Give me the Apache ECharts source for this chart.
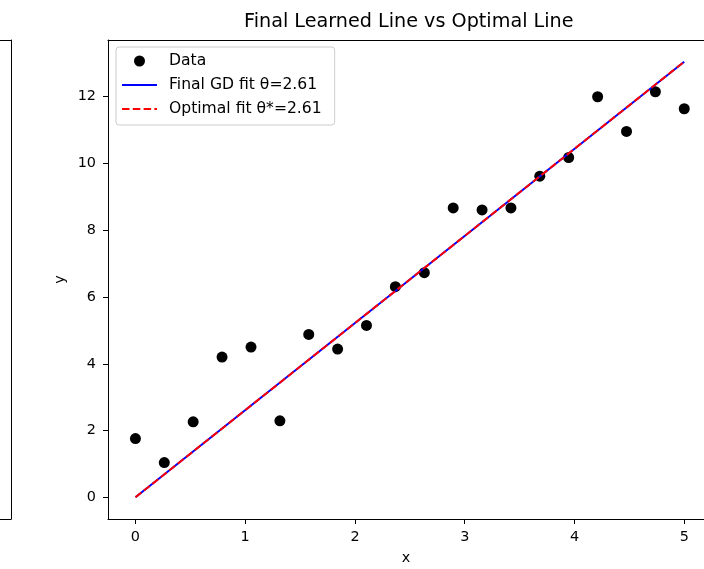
<!DOCTYPE html>
<html>
<head>
<meta charset="utf-8">
<script src="https://cdn.jsdelivr.net/npm/echarts@6/dist/echarts.min.js"></script>
<style>
  html, body { margin: 0; padding: 0; background: #ffffff; }
  #chart { width: 704px; height: 569px; }
</style>
</head>
<body>
<div id="chart"></div>
<script>
// data points
const dataX = [0, 0.263, 0.526, 0.789, 1.053, 1.316, 1.579, 1.842, 2.105, 2.368,
  2.632, 2.895, 3.158, 3.421, 3.684, 3.947, 4.211, 4.474, 4.737, 5];
const dataY = [1.76, 1.04, 2.26, 4.2, 4.5, 2.29, 4.88, 4.44, 5.15, 6.31,
  6.73, 8.67, 8.61, 8.67, 9.62, 10.18, 12.0, 10.96, 12.15, 11.64];

// fitted lines (theta = 2.61)
const fitX = [0, 5];
const gdFitY = [0, 13.05];
const optFitY = [0, 13.05];

const xTicks = [0, 1, 2, 3, 4, 5];
const yTicks = [0, 2, 4, 6, 8, 10, 12];

const seriesNames = ["Data", "Final GD fit θ=2.61", "Optimal fit θ*=2.61"];

const font = "DejaVu Sans";
const zip = (xs, ys) => xs.map((x, i) => [x, ys[i]]);
const spine = { show: true, onZero: false, lineStyle: { color: "#000", width: 1 } };

const chart = echarts.init(document.getElementById("chart"), null, { renderer: "canvas" });

chart.setOption({
  animation: false,
  textStyle: { fontFamily: font, color: "#000" },
  title: {
    text: "Final Learned Line vs Optimal Line",
    left: 239,
    top: 8,
    textStyle: { fontFamily: font, fontSize: 19.2, fontWeight: "normal", color: "#000" }
  },
  legend: {
    orient: "vertical",
    left: 116,
    top: 47,
    padding: [6, 13, 8, 5],
    itemWidth: 35,
    itemHeight: 11,
    itemGap: 8,
    backgroundColor: "rgba(255,255,255,0.8)",
    borderColor: "#cccccc",
    borderWidth: 1,
    borderRadius: 3,
    textStyle: { fontFamily: font, fontSize: 15.6, color: "#000", padding: [0, 0, 0, 7] },
    data: [
      { name: seriesNames[0], icon: "circle", itemStyle: { color: "#000" } },
      { name: seriesNames[1], itemStyle: { opacity: 0 } },
      { name: seriesNames[2], itemStyle: { opacity: 0 } }
    ]
  },
  grid: [
    { left: 108, top: 40, right: 0, height: 479, containLabel: false, outerBoundsMode: "none" },
    // edge of the neighbouring subplot, cut by the figure crop
    { left: 0, top: 40, width: 11, height: 479, containLabel: false, outerBoundsMode: "none" }
  ],
  xAxis: [
    {
      type: "value",
      gridIndex: 0,
      min: -0.25,
      max: 5.18,
      name: "x",
      nameLocation: "middle",
      nameGap: 32,
      nameTextStyle: { fontFamily: font, fontSize: 14.4, color: "#000" },
      axisLine: spine,
      axisTick: { show: true, inside: false, length: 5, customValues: xTicks, lineStyle: { color: "#000" } },
      axisLabel: { customValues: xTicks, margin: 11, fontFamily: font, fontSize: 14.4, color: "#000" },
      splitLine: { show: false }
    },
    {
      type: "value", gridIndex: 0, position: "top", min: -0.25, max: 5.18,
      axisLine: spine, axisTick: { show: false }, axisLabel: { show: false }, splitLine: { show: false }
    },
    {
      type: "value", gridIndex: 1, position: "top", min: 0, max: 1,
      axisLine: spine, axisTick: { show: false }, axisLabel: { show: false }, splitLine: { show: false }
    },
    {
      type: "value", gridIndex: 1, position: "bottom", min: 0, max: 1,
      axisLine: spine, axisTick: { show: false }, axisLabel: { show: false }, splitLine: { show: false }
    }
  ],
  yAxis: [
    {
      type: "value",
      gridIndex: 0,
      min: -0.65,
      max: 13.7,
      name: "y",
      nameLocation: "middle",
      nameGap: 41,
      nameTextStyle: { fontFamily: font, fontSize: 14.4, color: "#000" },
      axisLine: spine,
      axisTick: { show: true, inside: false, length: 5, customValues: yTicks, lineStyle: { color: "#000" } },
      axisLabel: { customValues: yTicks, margin: 12, fontFamily: font, fontSize: 14.4, color: "#000" },
      splitLine: { show: false }
    },
    {
      type: "value", gridIndex: 1, position: "right", min: 0, max: 1,
      axisLine: spine, axisTick: { show: false }, axisLabel: { show: false }, splitLine: { show: false }
    }
  ],
  series: [
    {
      name: seriesNames[0],
      type: "scatter",
      xAxisIndex: 0,
      yAxisIndex: 0,
      symbol: "circle",
      symbolSize: 11,
      itemStyle: { color: "#000", opacity: 1 },
      data: zip(dataX, dataY),
      z: 2
    },
    {
      name: seriesNames[1],
      type: "line",
      xAxisIndex: 0,
      yAxisIndex: 0,
      symbol: "none",
      color: "#0000ff",
      lineStyle: { color: "#0000ff", width: 2 },
      data: zip(fitX, gdFitY),
      z: 3
    },
    {
      name: seriesNames[2],
      type: "line",
      xAxisIndex: 0,
      yAxisIndex: 0,
      symbol: "none",
      color: "#ff0000",
      lineStyle: { color: "#ff0000", width: 2, type: [7.5, 3.3] },
      data: zip(fitX, optFitY),
      z: 4
    }
  ]
});
</script>
</body>
</html>
